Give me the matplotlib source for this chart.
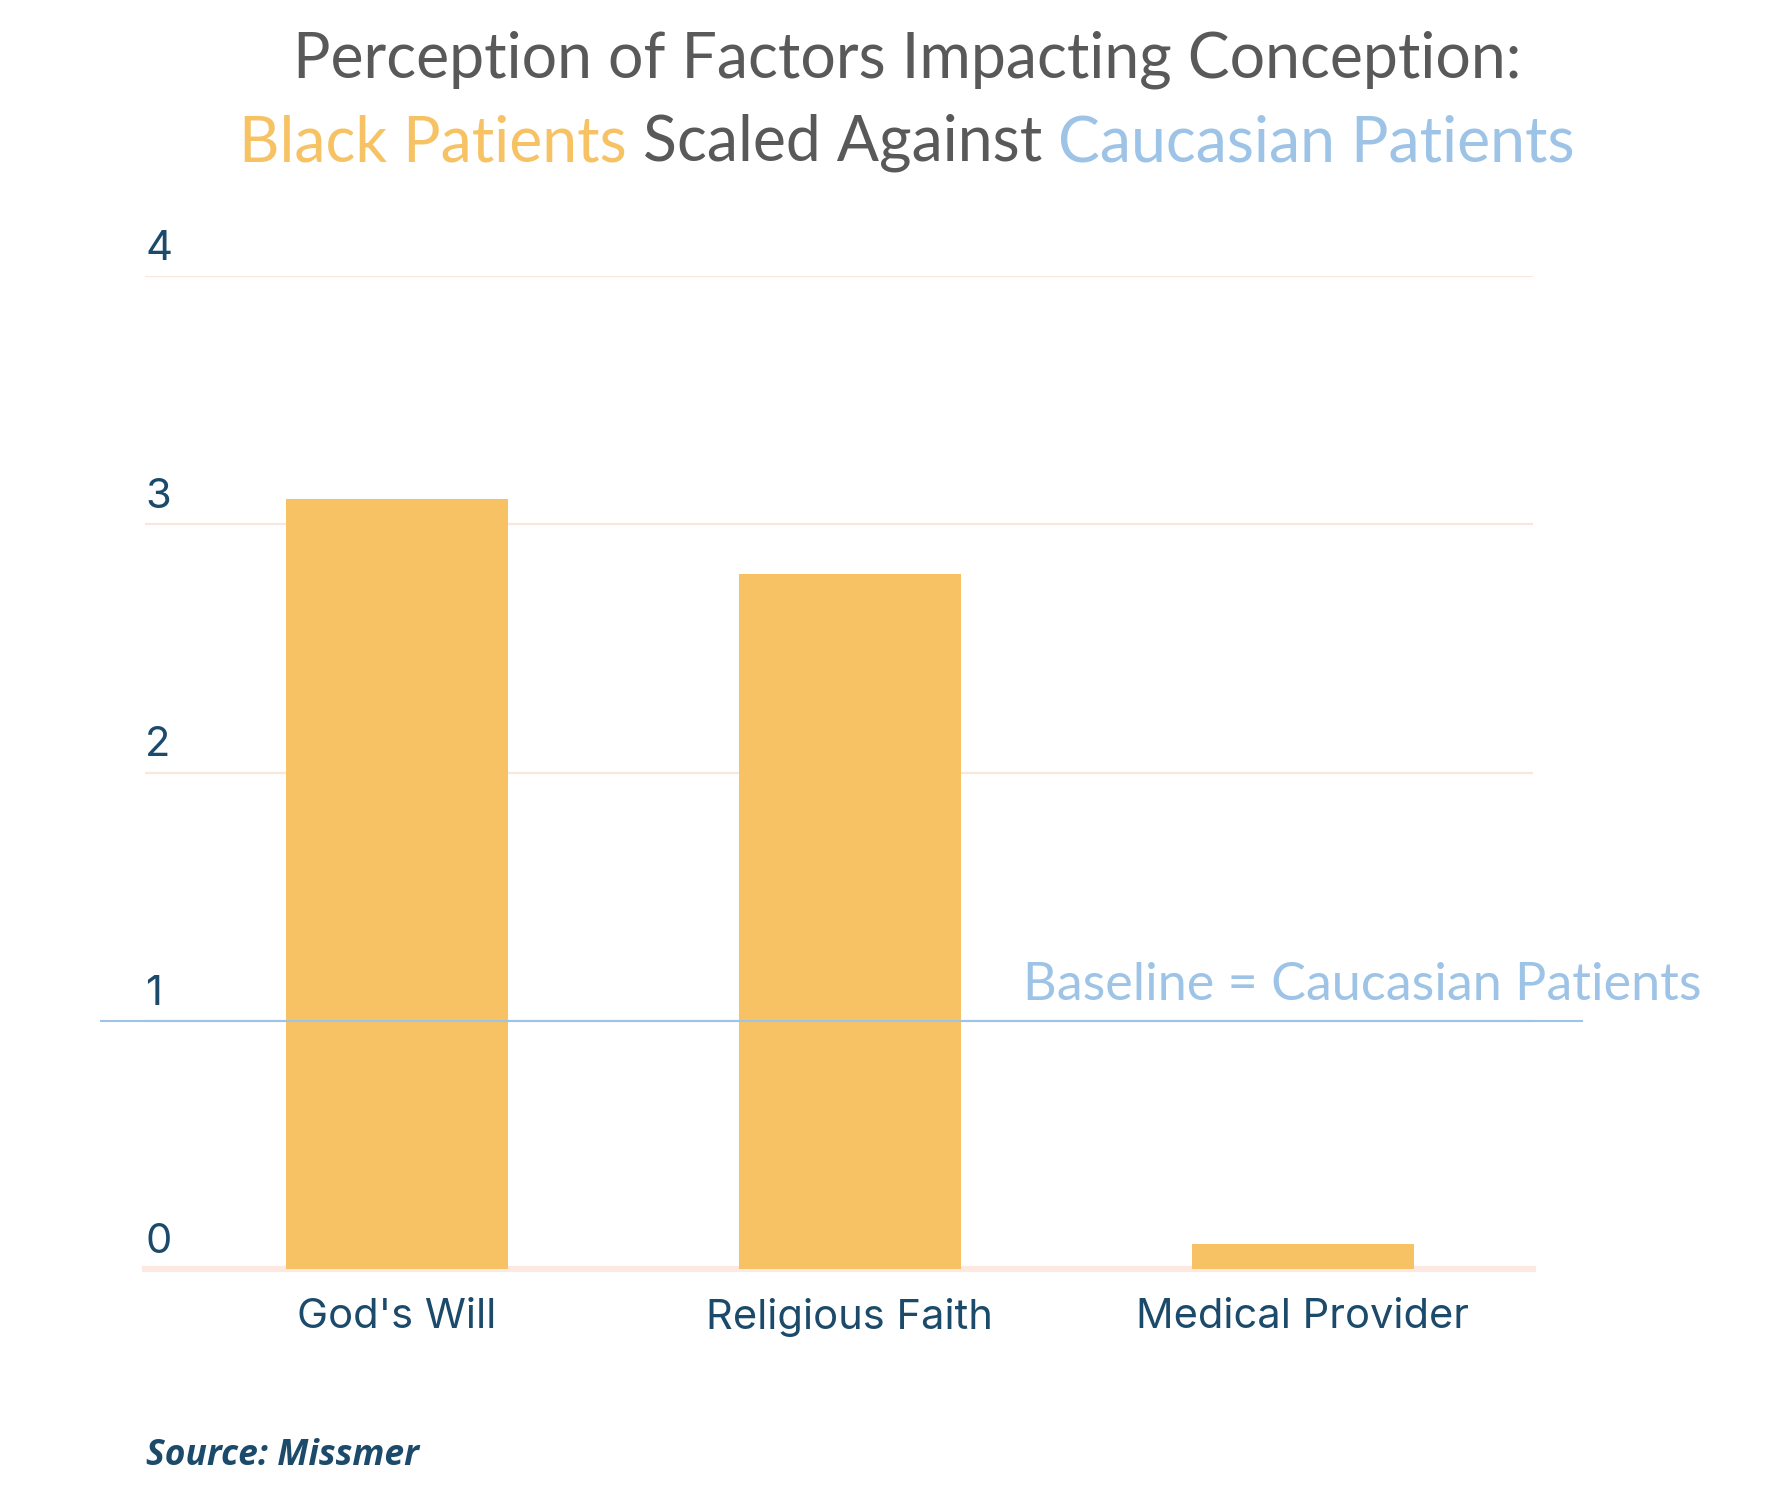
import matplotlib
matplotlib.use("Agg")
import matplotlib.pyplot as plt

categories = ["God's Will", "Religious Faith", "Medical Provider"]
values = [3.1, 2.8, 0.1]
y_ticks = [0, 1, 2, 3, 4]
baseline_value = 1

title_line1 = "Perception of Factors Impacting Conception:"
title_black = "Black Patients"
title_mid = "Scaled Against"
title_cauc = "Caucasian Patients"
baseline_label = "Baseline = Caucasian Patients"
source_text = "Source: Missmer"

ORANGE = "#F6C263"
BLUE = "#9DC3E6"
GRAY = "#595959"
NAVY = "#1B4A6B"
GRID = "#FBE6DD"

W, H = 1786, 1498
fig = plt.figure(figsize=(W / 100, H / 100), dpi=100)
ax = fig.add_axes([145 / W, 229 / H, 1388 / W, 993 / H])

x = list(range(len(categories)))
ax.bar(x, values, width=0.49, color=ORANGE, zorder=2)
ax.set_xlim(-0.556, 2.508)
ax.set_ylim(0, 4)

for s in ax.spines.values():
    s.set_visible(False)

# gridlines and left-aligned tick labels sitting above each line
for v in y_ticks[1:]:
    ax.axhline(v, color=GRID, lw=1.6, zorder=1)
ax.axhline(0, color="#FCEAE2", lw=4.4, zorder=1, clip_on=False)
for v in y_ticks:
    ax.text(0.0, v + 0.065, str(v), transform=ax.get_yaxis_transform(),
            ha="left", va="baseline", fontsize=30, color=NAVY, family="Inter")

ax.set_yticks([])
ax.set_xticks(x)
ax.set_xticklabels(categories, fontsize=30, color=NAVY, family="Inter")
ax.tick_params(axis="x", length=0, pad=21)

# baseline at 1 (Caucasian patients)
ax.plot([-0.654, 2.616], [baseline_value, baseline_value], color=BLUE,
        lw=1.5, zorder=3, clip_on=False)
ax.text(1.382, baseline_value + 0.085, baseline_label, fontsize=37.5,
        color=BLUE, family="Lato", ha="left", va="baseline", clip_on=False)

TS = 45
# title, first line
fig.text(0.508, 1 - 60 / H, title_line1, fontsize=TS, color=GRAY,
         family="Lato", ha="center", va="center")

# second line with coloured parts
cx = 0.508
cy = 1 - 143 / H
renderer = fig.canvas.get_renderer()
full = title_black + " " + title_mid + " " + title_cauc
t_full = fig.text(cx, cy, full, fontsize=TS, family="Lato", ha="center", va="center")
bb = t_full.get_window_extent(renderer)
t_full.remove()
t_pre = fig.text(0, cy, title_black + " " + title_mid, fontsize=TS, family="Lato", va="center")
pre_w = t_pre.get_window_extent(renderer).width
t_pre.remove()
left = bb.x0 / W
fig.text(left, cy, title_black, fontsize=TS, family="Lato", color=ORANGE,
         ha="left", va="center")
fig.text(left + pre_w / W, cy, title_mid, fontsize=TS, family="Lato", color=GRAY,
         ha="right", va="center")
fig.text(bb.x1 / W, cy, title_cauc, fontsize=TS, family="Lato", color=BLUE,
         ha="right", va="center")

fig.text(146 / W, 1 - 1456 / H, source_text, fontsize=25.5, color=NAVY,
         family="Open Sans", weight="bold", style="italic", ha="left", va="center")

fig.savefig("out.png", dpi=100, facecolor="white")
